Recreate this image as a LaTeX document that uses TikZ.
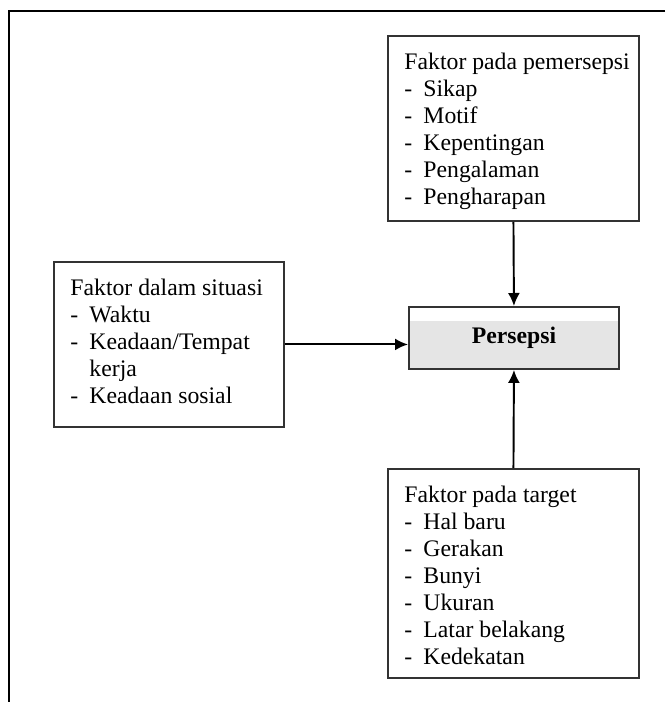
\documentclass[tikz,border=0pt]{standalone}
\usepackage{fontspec}
\setmainfont{Liberation Serif}
\usetikzlibrary{arrows.meta}
\tikzset{
% Boxes for the factors and for the perception in the middle
factor box/.style={draw=black!80,line width=1.1pt,anchor=north west,
  inner xsep=0.33cm,inner ysep=0.35cm,align=left},
result box/.style={draw=black!80,line width=1.1pt,fill=black!10,anchor=north west,
  minimum width=4.2cm,minimum height=1.24cm,font=\fontsize{13.5}{15.3}\selectfont\bfseries,
  path picture={\fill[white] (path picture bounding box.north west)
    rectangle ([yshift=-0.28cm]path picture bounding box.north east);}},
flow/.style={line width=1.1pt,-{Latex[length=0.26cm,width=0.24cm]}}
}
% list of factors, set at the top of a box of fixed size
\newcommand{\factorlist}[3]{\parbox[c][#1][t]{#2}{\raggedright #3}}
\newcommand{\dashitem}{\makebox[0.38cm][l]{-}}

\begin{document}
\begin{tikzpicture}[x=0.02cm,y=-0.02cm,font=\fontsize{13.5}{15.3}\selectfont]
      \useasboundingbox (0,0) rectangle (665,702);
      % Frame round the figure
      \draw[line width=0.8pt] (665,11) -- (9,11) -- (9,702);
      % Perception
      \node(persepsi)[result box] at (408,306) {Persepsi};
      % Factors
      \node(pemersepsi)[factor box] at (387,35) {\factorlist{3.00cm}{4.36cm}{%
          \mbox{Faktor pada pemersepsi}\\ \dashitem Sikap\\ \dashitem Motif\\
          \dashitem Kepentingan\\ \dashitem Pengalaman\\ \dashitem Pengharapan}};
      \node(situasi)[factor box] at (53,261) {\factorlist{2.60cm}{3.94cm}{%
          \mbox{Faktor dalam situasi}\\ \dashitem Waktu\\ \dashitem Keadaan/Tempat\\
          \hspace*{0.38cm}kerja\\ \dashitem Keadaan sosial}};
      \node(target)[factor box] at (387,468) {\factorlist{3.48cm}{4.36cm}{%
          \mbox{Faktor pada target}\\ \dashitem Hal baru\\ \dashitem Gerakan\\
          \dashitem Bunyi\\ \dashitem Ukuran\\ \dashitem Latar belakang\\
          \dashitem Kedekatan}};
      % Arrows into the perception
      \draw[flow] (pemersepsi.south) -- (persepsi.north);
      \draw[flow] (situasi.east) -- (situasi.east -| persepsi.west);
      \draw[flow] (target.north) -- (persepsi.south);
    \end{tikzpicture}
\end{document}
